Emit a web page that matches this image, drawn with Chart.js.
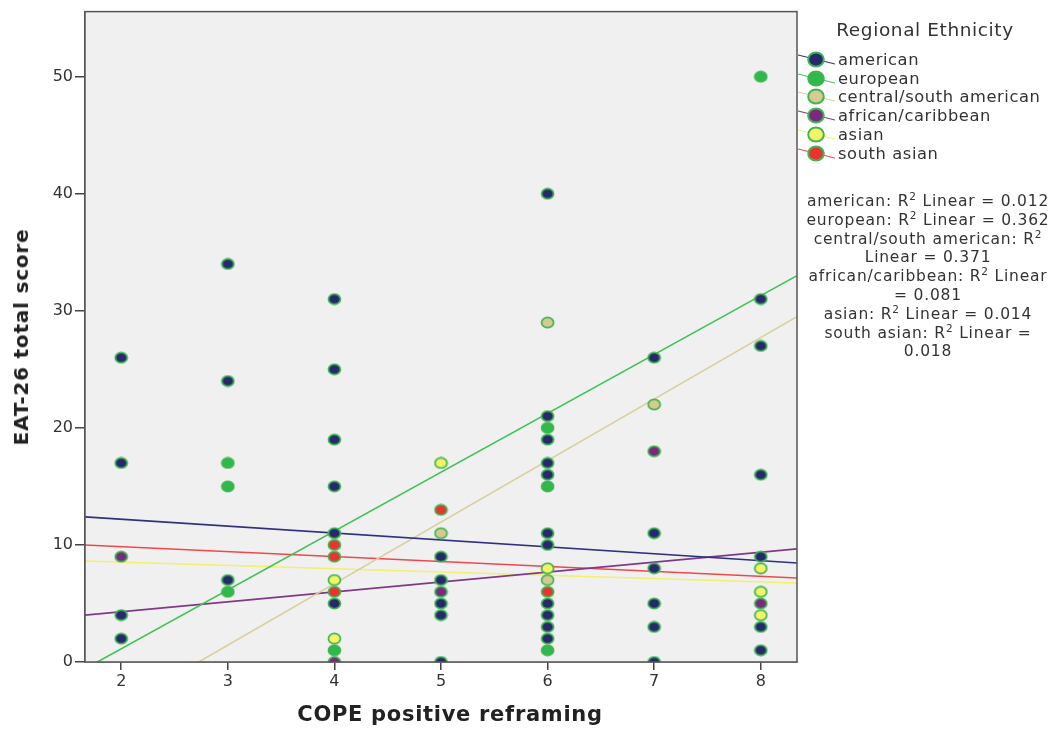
<!DOCTYPE html>
<html>
<head>
<meta charset="utf-8">
<script src="https://cdn.jsdelivr.net/npm/chart.js@4/dist/chart.umd.min.js"></script>
<style>
  body { margin:0; background:#fff; font-family:'DejaVu Sans', sans-serif; }
  #wrap { position:relative; width:1060px; height:729px; }
  #scatter { position:absolute; left:0; top:0; }
  .lg-title { position:absolute; left:800px; width:250px; top:19px; text-align:center; font-size:18.5px; color:#333; letter-spacing:0.6px; }
  .lg-item { position:absolute; left:798px; height:19px; display:flex; align-items:center; font-size:16.3px; color:#333; letter-spacing:0.6px; }
  .lg-item svg { margin-right:3px; }
  .r2 { position:absolute; left:797px; width:262px; top:192px; text-align:center; font-size:15.5px; line-height:18.8px; color:#333; letter-spacing:0.8px; white-space:nowrap; }
  .r2 sup { font-size:10.5px; line-height:0; }
  .xtitle { position:absolute; left:94px; width:712px; top:702px; text-align:center; font-size:21px; font-weight:bold; color:#222; letter-spacing:0.7px; }
  .ytitle { position:absolute; left:21px; top:337px; transform:translate(-50%,-50%) rotate(-90deg); font-size:20px; font-weight:bold; color:#222; letter-spacing:0.8px; white-space:nowrap; }
</style>
</head>
<body>
<div id="wrap">
  <canvas id="scatter" width="1060" height="729"></canvas>
  <div class="xtitle">COPE positive reframing</div>
  <div class="ytitle">EAT-26 total score</div>
  <div class="lg-title">Regional Ethnicity</div>
  <div id="legend"></div>
  <div class="r2">
    american: R<sup>2</sup> Linear = 0.012<br>
    european: R<sup>2</sup> Linear = 0.362<br>
    central/south american: R<sup>2</sup><br>
    Linear = 0.371<br>
    african/caribbean: R<sup>2</sup> Linear<br>
    = 0.081<br>
    asian: R<sup>2</sup> Linear = 0.014<br>
    south asian: R<sup>2</sup> Linear =<br>
    0.018
  </div>
</div>
<script>
const groups = ['american', 'european', 'central/south american', 'african/caribbean', 'asian', 'south asian'];
const pointColors = ['#28286e', '#2fb94a', '#d5ca92', '#792a7e', '#f6f466', '#ec3131'];
const fitColors = ['#2e3080', '#3fc257', '#d8cf9c', '#7e3a86', '#f2f06c', '#f0484a'];
const markerEdge = '#3fb650';

// observations per group (COPE positive reframing, EAT-26)
const americanX = [2, 2, 2, 2, 3, 3, 3, 4, 4, 4, 4, 4, 4, 5, 5, 5, 5, 5, 6, 6, 6, 6, 6, 6, 6, 6, 6, 6, 6, 7, 7, 7, 7, 7, 7, 8, 8, 8, 8, 8, 8];
const americanY = [26, 17, 4, 2, 34, 24, 7, 31, 25, 19, 15, 11, 5, 9, 7, 5, 4, 0, 40, 21, 19, 17, 16, 11, 10, 5, 4, 3, 2, 26, 11, 8, 5, 3, 0, 31, 27, 16, 9, 3, 1];
const europeanX = [3, 3, 3, 4, 6, 6, 6, 8];
const europeanY = [17, 15, 6, 1, 20, 15, 1, 50];
const centralX = [5, 6, 6, 7];
const centralY = [11, 29, 7, 22];
const africanX = [2, 4, 5, 7, 8];
const africanY = [9, 0, 6, 18, 5];
const asianX = [4, 4, 5, 6, 8, 8, 8];
const asianY = [7, 2, 17, 8, 8, 6, 4];
const southAsianX = [4, 4, 4, 5, 6];
const southAsianY = [10, 9, 6, 13, 6];

// fit lines, read at the left and right edges of the plot
const fitX = [1.66, 8.34];
const americanFit = [12.4, 8.46];
const europeanFit = [-0.58, 33.0];
const centralFit = [-5.6, 29.5];
const africanFit = [4.0, 9.66];
const asianFit = [8.63, 6.75];
const southAsianFit = [10.0, 7.18];

const xTicks = [2, 3, 4, 5, 6, 7, 8];
const yTicks = [0, 10, 20, 30, 40, 50];

const seriesX = [americanX, europeanX, centralX, africanX, asianX, southAsianX];
const seriesY = [americanY, europeanY, centralY, africanY, asianY, southAsianY];
const fits = [americanFit, europeanFit, centralFit, africanFit, asianFit, southAsianFit];

function pairs(xs, ys) {
  return xs.map((x, i) => ({ x: x, y: ys[i] }));
}

// the source picture is stretched sideways, so markers are slightly oval
function ovalMarker(fill) {
  const cv = document.createElement('canvas');
  cv.width = 15; cv.height = 13;
  const c = cv.getContext('2d');
  c.beginPath();
  c.ellipse(7.5, 6.5, 6.0, 5.2, 0, 0, Math.PI * 2);
  c.fillStyle = fill;
  c.fill();
  c.lineWidth = 1.7;
  c.strokeStyle = markerEdge;
  c.stroke();
  return cv;
}

// legend on the right, HTML
document.getElementById('legend').innerHTML = groups.map((g, i) => `
  <div class="lg-item" style="top:${50 + i * 18.7}px;">
    <svg width="37" height="19"><line x1="0" y1="5" x2="37" y2="14" stroke="${fitColors[i]}" stroke-width="1.2"/>
    <ellipse cx="18" cy="9.5" rx="7.8" ry="7" fill="${pointColors[i]}" stroke="${markerEdge}" stroke-width="2"/></svg>${g}
  </div>`).join('');

const datasets = [];
groups.forEach((g, i) => {
  datasets.push({
    label: g + ' fit',
    data: pairs(fitX, fits[i]),
    showLine: true,
    borderColor: fitColors[i],
    borderWidth: 1.6,
    pointRadius: 0,
    order: 2
  });
});
groups.forEach((g, i) => {
  datasets.push({
    label: g,
    data: pairs(seriesX[i], seriesY[i]),
    pointStyle: ovalMarker(pointColors[i]),
    pointRadius: 6,
    order: 1
  });
});

const plotFrame = {
  id: 'plotFrame',
  beforeDatasetsDraw(chart) {
    const a = chart.chartArea, c = chart.ctx;
    c.save();
    c.fillStyle = '#f0f0f0';
    c.fillRect(a.left, a.top, a.right - a.left, a.bottom - a.top);
    c.restore();
  },
  afterDatasetsDraw(chart) {
    const a = chart.chartArea, c = chart.ctx;
    c.save();
    c.strokeStyle = '#555';
    c.lineWidth = 1.5;
    c.strokeRect(a.left, a.top, a.right - a.left, a.bottom - a.top);
    c.restore();
  }
};

new Chart(document.getElementById('scatter'), {
  type: 'scatter',
  data: { datasets: datasets },
  options: {
    responsive: false,
    animation: false,
    layout: { padding: { left: 10, top: 8, right: 263, bottom: 0 } },
    plugins: { legend: { display: false }, tooltip: { enabled: false } },
    scales: {
      x: {
        type: 'linear',
        min: fitX[0],
        max: fitX[1],
        afterFit: s => { s.height = 67; },
        afterBuildTicks: s => { s.ticks = xTicks.map(v => ({ value: v })); },
        grid: { drawOnChartArea: false, tickLength: 8, color: '#444', lineWidth: 1.5 },
        border: { color: '#555', width: 1.5 },
        ticks: { color: '#333', font: { family: 'DejaVu Sans', size: 16 }, padding: 2 }
      },
      y: {
        type: 'linear',
        min: 0,
        max: 55.56,
        afterFit: s => { s.width = 75; },
        afterBuildTicks: s => { s.ticks = yTicks.map(v => ({ value: v })); },
        grid: { drawOnChartArea: false, tickLength: 10, color: '#444', lineWidth: 1.5 },
        border: { color: '#555', width: 1.5 },
        ticks: { color: '#333', font: { family: 'DejaVu Sans', size: 16 }, padding: 2 }
      }
    }
  },
  plugins: [plotFrame]
});
</script>
</body>
</html>
